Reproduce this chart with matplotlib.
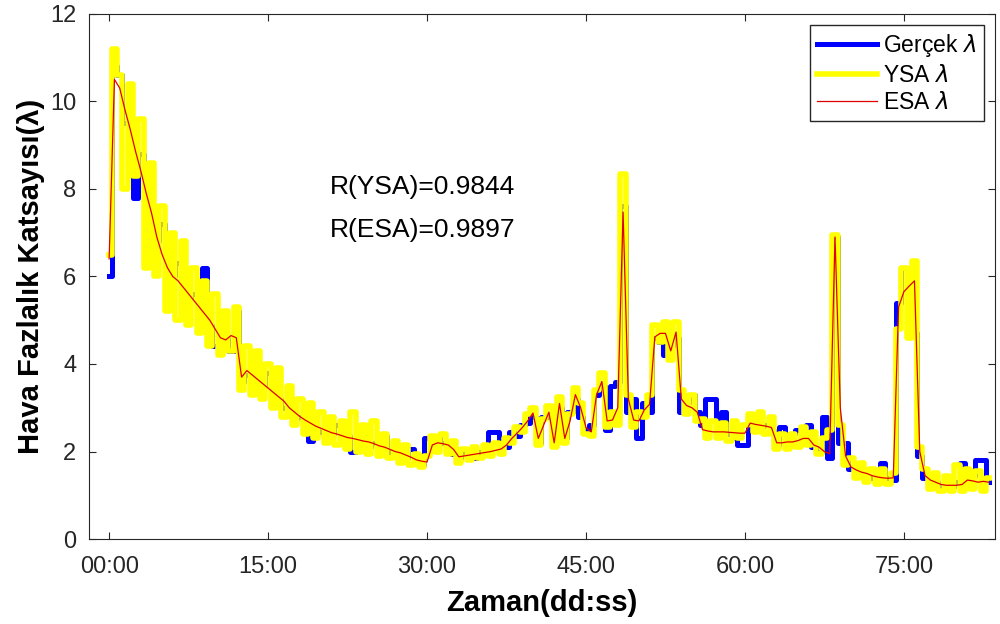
import numpy as np
import matplotlib
matplotlib.use('Agg')
import matplotlib.pyplot as plt

plt.rcParams['font.family'] = ['Liberation Sans', 'DejaVu Sans']

# time axis in minutes (0.5 min steps)
t = np.arange(0, 83.01, 0.5)

# measured lambda (Gercek)
gercek = [6.0, 10.8, 10.6, 9.5, 9.0, 7.8, 8.8, 7.9, 7.6, 6.8,
          7.2, 6.8, 6.0, 6.3, 5.6, 5.5, 5.6, 5.2, 6.2, 4.9,
          4.4, 4.5, 4.6, 4.3, 5.2, 3.6, 3.75, 3.7, 3.4, 3.5,
          3.8, 3.8, 3.2, 3.0, 3.1, 2.75, 2.8, 2.95, 2.25, 2.5,
          2.45, 2.25, 2.4, 2.6, 2.3, 2.35, 2.0, 2.25, 2.2, 2.1,
          2.2, 2.35, 2.35, 2.0, 2.0, 1.9, 1.85, 2.05, 1.8, 1.7,
          2.3, 2.15, 2.3, 2.2, 2.1, 1.95, 1.85, 2.0, 1.9, 1.85,
          2.0, 2.0, 2.45, 2.45, 2.1, 2.1, 2.45, 2.35, 2.6, 2.65,
          2.8, 2.2, 2.8, 2.8, 2.2, 3.0, 2.3, 2.9, 3.2, 2.8,
          2.5, 2.6, 3.3, 3.5, 2.5, 3.5, 3.6, 7.6, 2.9, 3.2,
          2.3, 3.1, 2.9, 4.6, 4.5, 4.2, 4.4, 4.6, 2.9, 3.1,
          3.3, 2.9, 2.6, 3.2, 3.2, 2.4, 2.9, 2.4, 2.3, 2.15,
          2.15, 2.6, 2.7, 2.55, 2.6, 2.5, 2.15, 2.55, 2.2, 2.4,
          2.5, 2.3, 2.6, 2.1, 2.0, 2.8, 1.85, 6.9, 2.2, 2.2,
          1.6, 1.72, 1.5, 1.45, 1.4, 1.5, 1.75, 1.4, 1.35, 5.4,
          6.2, 5.7, 4.7, 1.9, 1.4, 1.35, 1.3, 1.2, 1.25, 1.2,
          1.3, 1.75, 1.3, 1.45, 1.8, 1.8, 1.3]

# neural network estimate (YSA)
ysa = [6.5, 11.2, 10.6, 8.0, 10.4, 8.3, 9.6, 6.2, 8.6, 6.0,
       7.6, 5.2, 7.0, 5.0, 6.8, 4.9, 6.2, 4.7, 5.9, 4.4,
       5.6, 4.2, 5.2, 4.3, 5.3, 3.4, 4.4, 3.3, 4.3, 3.2,
       4.0, 3.0, 3.9, 2.8, 3.5, 2.6, 3.2, 2.4, 3.1, 2.3,
       2.9, 2.2, 2.8, 2.15, 2.7, 2.05, 2.9, 2.0, 2.6, 1.95,
       2.7, 1.9, 2.4, 1.85, 2.25, 1.75, 2.15, 1.7, 1.95, 1.65,
       1.9, 2.35, 2.0, 2.4, 1.95, 2.25, 1.75, 2.05, 1.8, 2.1,
       1.85, 2.15, 1.9, 2.2, 1.95, 2.3, 2.2, 2.55, 2.45, 2.85,
       3.0, 2.15, 2.75, 3.05, 2.1, 3.25, 2.2, 2.85, 3.45, 3.1,
       2.4, 2.35, 3.4, 3.8, 2.55, 2.9, 2.6, 8.35, 3.3, 2.55,
       2.9, 2.8, 3.3, 4.9, 4.5, 4.95, 4.1, 4.95, 3.4, 2.85,
       3.3, 2.7, 2.75, 2.3, 2.7, 2.3, 2.65, 2.25, 2.7, 2.3,
       2.6, 2.85, 2.45, 2.9, 2.4, 2.8, 2.05, 2.4, 2.05, 2.4,
       2.1, 2.55, 2.15, 2.45, 1.95, 2.3, 2.5, 6.95, 2.6, 1.7,
       1.85, 1.4, 1.75, 1.3, 1.6, 1.25, 1.6, 1.25, 1.5, 4.8,
       6.2, 4.6, 6.35, 2.1, 1.6, 1.15, 1.5, 1.1, 1.45, 1.1,
       1.7, 1.1, 1.6, 1.15, 1.55, 1.1, 1.4]

# expert system estimate (ESA)
esa = [6.4, 10.5, 10.3, 9.8, 9.35, 8.85, 8.4, 7.9, 7.45, 6.9,
       6.5, 6.2, 6.0, 5.9, 5.75, 5.6, 5.45, 5.3, 5.15, 5.0,
       4.8, 4.6, 4.55, 4.65, 4.6, 3.7, 3.85, 3.75, 3.65, 3.55,
       3.45, 3.35, 3.25, 3.15, 3.0, 2.9, 2.8, 2.72, 2.65, 2.58,
       2.53, 2.48, 2.43, 2.4, 2.36, 2.32, 2.3, 2.27, 2.24, 2.22,
       2.18, 2.13, 2.1, 2.05, 2.0, 1.97, 1.92, 1.87, 1.81, 1.78,
       1.76, 2.15, 2.2, 2.18, 2.15, 2.05, 1.88, 1.9, 1.92, 1.94,
       1.96, 1.98, 2.0, 2.03, 2.06, 2.15, 2.3, 2.42, 2.55, 2.7,
       2.88, 2.3, 2.6, 2.9, 2.2, 3.1, 2.3, 2.7, 3.3, 3.0,
       2.55, 2.45, 3.3, 3.6, 2.7, 2.72, 3.0, 7.47, 3.2, 2.72,
       2.7, 2.95, 3.08, 4.62, 4.7, 4.7, 4.3, 4.73, 3.2, 3.05,
       3.0, 2.9, 2.5, 2.47, 2.45, 2.45, 2.45, 2.44, 2.43, 2.42,
       2.42, 2.65, 2.62, 2.6, 2.58, 2.55, 2.2, 2.2, 2.22, 2.22,
       2.25, 2.3, 2.3, 2.15, 2.1, 2.0, 1.95, 6.9, 3.0, 1.9,
       1.65, 1.58, 1.53, 1.5, 1.45, 1.42, 1.4, 1.39, 1.4, 5.3,
       5.65, 5.78, 5.9, 2.0, 1.45, 1.35, 1.3, 1.25, 1.23, 1.23,
       1.23, 1.25, 1.35, 1.33, 1.3, 1.32, 1.3]

tick_pos = [0, 15, 30, 45, 60, 75]
tick_lab = ['00:00', '15:00', '30:00', '45:00', '60:00', '75:00']

fig = plt.figure(figsize=(10, 6.24), dpi=100)
ax = fig.add_axes([0.089, 0.136, 0.906, 0.842])

ax.plot(t, gercek, color='#0000ff', lw=3.6, drawstyle='steps-mid', label='Gerçek $\\lambda$')
ax.plot(t, ysa, color='#ffff00', lw=4.0, drawstyle='steps-mid', label='YSA $\\lambda$')
ax.plot(t, esa, color='#e00000', lw=0.9, label='ESA $\\lambda$')

ax.text(20.8, 8.05, 'R(YSA)=0.9844', fontsize=19, va='center')
ax.text(20.8, 7.06, 'R(ESA)=0.9897', fontsize=19, va='center')

ax.set_xlim(-1.9, 83.6)
ax.set_ylim(0, 12)
ax.set_xticks(tick_pos)
ax.set_xticklabels(tick_lab)
ax.set_yticks(range(0, 13, 2))
ax.tick_params(direction='in', top=True, right=True, labelsize=17, length=5,
               colors='#262626')
ax.tick_params(axis='x', pad=12)
ax.tick_params(axis='y', pad=9)
for s in ax.spines.values():
    s.set_color('#262626')

ax.set_xlabel('Zaman(dd:ss)', fontsize=21, fontweight='bold', labelpad=8)
ax.set_ylabel('Hava Fazlalık Katsayısı(λ)', fontsize=21, fontweight='bold', labelpad=4)

leg = ax.legend(loc='upper right', fontsize=16.5, fancybox=False, framealpha=1,
                edgecolor='#262626', borderaxespad=0.5, handlelength=2.6,
                labelspacing=0.2, borderpad=0.3, handletextpad=0.3)
leg.get_frame().set_linewidth(1.0)

fig.savefig('out.png', dpi=100)
